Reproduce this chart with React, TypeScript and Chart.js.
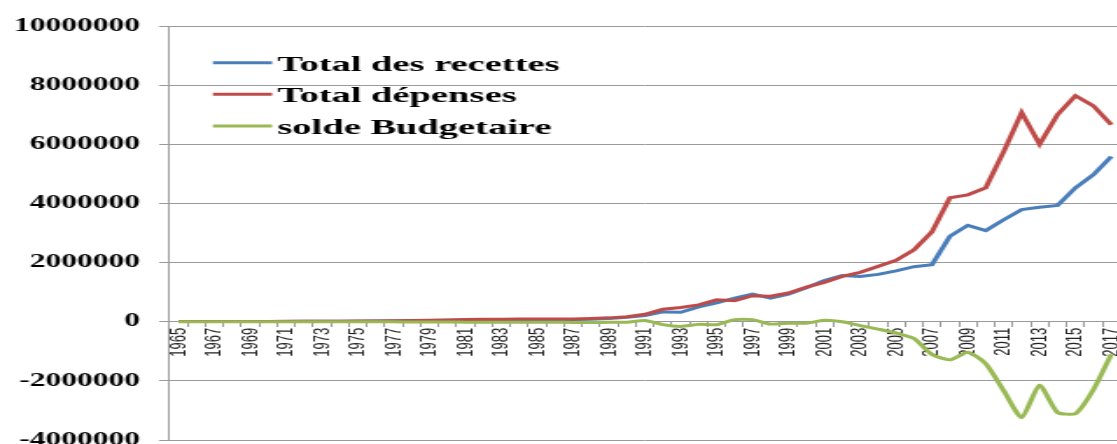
import React, { useEffect, useRef } from "react";
import { Chart, registerables } from "chart.js";

Chart.register(...registerables);

const years = [
  "1965", "1966", "1967", "1968", "1969", "1970", "1971", "1972", "1973", "1974",
  "1975", "1976", "1977", "1978", "1979", "1980", "1981", "1982", "1983", "1984",
  "1985", "1986", "1987", "1988", "1989", "1990", "1991", "1992", "1993", "1994",
  "1995", "1996", "1997", "1998", "1999", "2000", "2001", "2002", "2003", "2004",
  "2005", "2006", "2007", "2008", "2009", "2010", "2011", "2012", "2013", "2014",
  "2015", "2016", "2017",
];

const recettes = [
  5000, 6000, 7000, 8000, 9000, 10000, 11000, 12000, 14000, 16000, 18000, 20000,
  25000, 30000, 40000, 50000, 60000, 62000, 65000, 70000, 75000, 70000, 72000, 85000, 110000,
  150000, 210000, 330000, 320000, 500000, 640000, 800000, 930000, 800000, 930000,
  1150000, 1390000, 1560000, 1530000, 1600000, 1720000, 1860000, 1930000, 2890000, 3260000,
  3080000, 3450000, 3790000, 3870000, 3930000, 4530000, 4970000, 5590000,
];

const depenses = [
  6000, 7000, 8000, 9000, 10000, 11000, 12000, 14000, 16000, 18000, 20000, 22000,
  30000, 38000, 48000, 60000, 75000, 80000, 85000, 90000, 92000, 90000, 95000, 110000, 130000,
  170000, 250000, 420000, 480000, 570000, 740000, 710000, 880000, 860000, 970000,
  1170000, 1330000, 1530000, 1670000, 1870000, 2080000, 2430000, 3040000, 4190000, 4290000,
  4530000, 5750000, 7070000, 6000000, 7000000, 7640000, 7300000, 6660000,
];

const solde = [
  -1000, -1000, -1000, -1000, -1000, -1000, -1000, -1000, -1000, -1000, -1000, -1000,
  -5000, -8000, -8000, -10000, -15000, -18000, -20000, -20000, -17000, -20000, -23000, -25000, -20000,
  -20000, 40000, -100000, -160000, -90000, -100000, 70000, 70000, -80000, -50000,
  -50000, 50000, 0, -130000, -250000, -380000, -570000, -1110000, -1290000, -1030000,
  -1420000, -2330000, -3240000, -2150000, -3070000, -3110000, -2300000, -1100000,
];

const seriesLabels = ["Total des recettes", "Total dépenses", "solde Budgetaire"];
const seriesColors = ["#4A7EBB", "#BE4B48", "#98B954"];

const Y_MIN = -4000000;
const Y_MAX = 10000000;
const Y_STEP = 2000000;

// canvas drawn narrow and stretched horizontally, like the reference
const CANVAS_W = 643;
const CANVAS_H = 444;
const CSS_W = 1125;

const legendPlugin = {
  id: "insideLegend",
  afterDraw(chart: any) {
    const ctx = chart.ctx;
    const x0 = 121.7;
    const x1 = 155.5;
    const tx = 158.5;
    const ys = [62.7, 94.3, 126];
    ctx.save();
    chart.data.datasets.forEach((ds: any, i: number) => {
      const y = ys[i];
      ctx.strokeStyle = ds.borderColor;
      ctx.lineWidth = 3;
      ctx.beginPath();
      ctx.moveTo(x0, y);
      ctx.lineTo(x1, y);
      ctx.stroke();
      ctx.fillStyle = "#000";
      ctx.font = "bold 22px 'Liberation Serif', 'Times New Roman', serif";
      ctx.textAlign = "left";
      ctx.textBaseline = "alphabetic";
      ctx.fillText(ds.label, tx, y + 8);
    });
    ctx.restore();
  },
};

export default function App() {
  const ref = useRef<HTMLCanvasElement | null>(null);

  useEffect(() => {
    if (!ref.current) return;
    const gridColor = "#9a9a9a";
    const chart = new Chart(ref.current, {
      type: "line",
      data: {
        labels: years,
        datasets: [
          {
            label: seriesLabels[0],
            data: recettes,
            borderColor: seriesColors[0],
            backgroundColor: seriesColors[0],
            borderWidth: 3,
            pointRadius: 0,
            tension: 0,
            order: 2,
          },
          {
            label: seriesLabels[1],
            data: depenses,
            borderColor: seriesColors[1],
            backgroundColor: seriesColors[1],
            borderWidth: 3,
            pointRadius: 0,
            tension: 0,
            order: 1,
          },
          {
            label: seriesLabels[2],
            data: solde,
            borderColor: seriesColors[2],
            backgroundColor: seriesColors[2],
            borderWidth: 3,
            pointRadius: 0,
            tension: 0.2,
            order: 0,
          },
        ],
      },
      options: {
        responsive: false,
        devicePixelRatio: 1,
        animation: false,
        layout: { padding: { left: 0, right: 2.7, top: 26, bottom: 4 } },
        plugins: {
          legend: { display: false },
          tooltip: { enabled: false },
        },
        scales: {
          x: {
            type: "category",
            position: { y: 0 } as any,
            offset: true,
            grid: {
              offset: true,
              drawOnChartArea: false,
              drawTicks: true,
              tickLength: 5,
              color: gridColor,
            },
            border: { display: true, color: gridColor, width: 1 },
            ticks: {
              autoSkip: false,
              maxRotation: 90,
              minRotation: 90,
              padding: 1,
              color: "#222",
              font: { family: "'Liberation Sans', Arial, sans-serif", size: 13 },
              callback: function (_v: any, index: number) {
                return index % 2 === 0 ? years[index] : "";
              },
            },
            afterFit: (scale: any) => {
              scale.paddingLeft = 0;
              scale.paddingRight = 0;
            },
          },
          y: {
            type: "linear",
            min: Y_MIN,
            max: Y_MAX,
            grid: {
              color: gridColor,
              lineWidth: 1,
              drawTicks: true,
              tickLength: 6,
            },
            border: { display: true, color: gridColor, width: 1 },
            ticks: {
              stepSize: Y_STEP,
              padding: 11,
              color: "#000",
              font: { family: "'Liberation Serif', 'Times New Roman', serif", size: 18, weight: "bold" },
              callback: (v: any) => String(v),
            },
            afterFit: (scale: any) => {
              scale.width = 96.9;
              scale.paddingTop = 0;
              scale.paddingBottom = 0;
            },
          },
        },
      },
      plugins: [legendPlugin],
    });
    return () => chart.destroy();
  }, []);

  return (
    <div
      style={{
        position: "fixed",
        left: 0,
        top: 0,
        width: 1117,
        height: 444,
        overflow: "hidden",
        background: "#fff",
      }}
    >
      <canvas
        ref={ref}
        width={CANVAS_W}
        height={CANVAS_H}
        style={{ width: CSS_W + "px", height: CANVAS_H + "px", display: "block" }}
      />
    </div>
  );
}
